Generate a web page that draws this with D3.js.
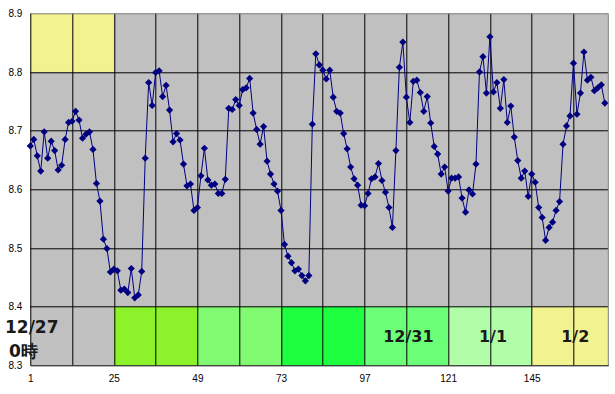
<!DOCTYPE html>
<html>
<head>
<meta charset="utf-8">
<script src="https://cdn.jsdelivr.net/npm/d3@7"></script>
<style>
  body { margin: 0; background: #fff; }
  svg { display: block; }
  .tick text { font-family: "Liberation Sans", Arial, sans-serif; font-size: 10px; fill: #000; }
  .note { font-family: "DejaVu Sans", sans-serif; font-weight: bold; fill: #1a1a1a; }
</style>
</head>
<body>
<div id="chart"></div>
<script>
// hourly readings, 12/27 0時 onwards
const levels = [
  8.674, 8.685, 8.657, 8.631, 8.698, 8.653, 8.682, 8.666, 8.633, 8.641, 8.685, 8.714,
  8.716, 8.733, 8.718, 8.687, 8.694, 8.698, 8.668, 8.610, 8.580, 8.515, 8.499, 8.459,
  8.464, 8.461, 8.428, 8.430, 8.424, 8.465, 8.415, 8.420, 8.460, 8.653, 8.782, 8.743,
  8.799, 8.802, 8.758, 8.777, 8.735, 8.681, 8.695, 8.684, 8.643, 8.606, 8.609, 8.564,
  8.569, 8.623, 8.670, 8.616, 8.607, 8.609, 8.593, 8.593, 8.617, 8.738, 8.736, 8.753,
  8.743, 8.770, 8.773, 8.789, 8.730, 8.702, 8.677, 8.707, 8.648, 8.626, 8.609, 8.597,
  8.564, 8.506, 8.486, 8.475, 8.461, 8.464, 8.453, 8.444, 8.453, 8.711, 8.831, 8.812,
  8.803, 8.788, 8.803, 8.757, 8.733, 8.730, 8.695, 8.669, 8.638, 8.618, 8.607, 8.573,
  8.572, 8.593, 8.618, 8.621, 8.644, 8.615, 8.595, 8.569, 8.535, 8.666, 8.808, 8.851,
  8.757, 8.714, 8.784, 8.786, 8.765, 8.733, 8.758, 8.713, 8.673, 8.660, 8.626, 8.638,
  8.597, 8.619, 8.619, 8.621, 8.585, 8.561, 8.599, 8.592, 8.643, 8.800, 8.826, 8.764,
  8.860, 8.766, 8.782, 8.738, 8.787, 8.714, 8.742, 8.689, 8.649, 8.619, 8.631, 8.588,
  8.626, 8.612, 8.569, 8.552, 8.513, 8.535, 8.544, 8.564, 8.579, 8.677, 8.708, 8.725,
  8.815, 8.728, 8.764, 8.834, 8.786, 8.791, 8.768, 8.773, 8.778, 8.747
];
const hours = levels.map((d, i) => i + 1);

const xTicks = [1, 25, 49, 73, 97, 121, 145];
const xGrid = d3.range(1, 167, 12);
const yTicks = [8.3, 8.4, 8.5, 8.6, 8.7, 8.8, 8.9];

// day blocks along the bottom row
const dayFrom = [25, 49, 73, 97, 121, 145];
const dayTo = [49, 73, 97, 121, 145, 167];
const dayColors = ["#8cf22a", "#80fa70", "#1eff40", "#6cff78", "#b0ffa8", "#f2f290"];
const dayNames = ["12/31", "1/1", "1/2"];
const dayNameAt = [109.6, 133.9, 157.5];

const width = 615, height = 394;
const margin = {top: 13.3, right: 6.7, bottom: 28.7, left: 30.3};
const chartWidth = width - margin.left - margin.right;
const chartHeight = height - margin.top - margin.bottom;

const svg = d3.select("#chart").append("svg")
  .attr("width", width)
  .attr("height", height);
const g = svg.append("g")
  .attr("transform", `translate(${margin.left}, ${margin.top})`);

const x = d3.scaleLinear().domain([1, 167]).range([0, chartWidth]);
const y = d3.scaleLinear().domain([8.3, 8.9]).range([chartHeight, 0]);

g.append("rect")
  .attr("width", chartWidth)
  .attr("height", chartHeight)
  .attr("fill", "#c0c0c0");

// top-left yellow block
g.append("rect")
  .attr("x", x(1))
  .attr("y", y(8.9))
  .attr("width", x(25) - x(1))
  .attr("height", y(8.8) - y(8.9))
  .attr("fill", "#f2f290");

g.selectAll(".day")
  .data(dayFrom)
  .enter()
  .append("rect")
  .attr("x", d => x(d))
  .attr("y", y(8.4))
  .attr("width", (d, i) => x(dayTo[i]) - x(d))
  .attr("height", y(8.3) - y(8.4))
  .attr("fill", (d, i) => dayColors[i]);

// grid
g.selectAll(".hgrid")
  .data(yTicks.slice(1, -1))
  .enter()
  .append("line")
  .attr("x1", 0).attr("x2", chartWidth)
  .attr("y1", d => Math.round(y(d)) + 0.5)
  .attr("y2", d => Math.round(y(d)) + 0.5)
  .attr("stroke", "#000");

g.selectAll(".vgrid")
  .data(xGrid.slice(1))
  .enter()
  .append("line")
  .attr("y1", 0).attr("y2", chartHeight)
  .attr("x1", d => Math.round(x(d)) + 0.5)
  .attr("x2", d => Math.round(x(d)) + 0.5)
  .attr("stroke", "#000");

// plot border (top/right grey)
g.append("path")
  .attr("d", `M0,0.5H${chartWidth}V${chartHeight}`)
  .attr("fill", "none")
  .attr("stroke", "#808080");

const xAxis = d3.axisBottom(x).tickValues(xTicks).tickSize(0).tickPadding(10).tickFormat(d3.format("d"));
const yAxis = d3.axisLeft(y).tickValues(yTicks).tickSize(0).tickPadding(8).tickFormat(d3.format(".1f"));

g.append("g")
  .attr("transform", `translate(0, ${chartHeight})`)
  .call(xAxis)
  .call(a => a.select(".domain").attr("stroke", "#000"));

g.append("g")
  .call(yAxis)
  .call(a => a.select(".domain").attr("stroke", "#000"));

// series
g.append("path")
  .datum(levels)
  .attr("fill", "none")
  .attr("stroke", "#000080")
  .attr("stroke-width", 1)
  .attr("d", d3.line().x((d, i) => x(hours[i])).y(d => y(d)));

const diamond = d3.symbol().type(d3.symbolSquare).size(26);
g.selectAll(".pt")
  .data(levels)
  .enter()
  .append("path")
  .attr("d", diamond)
  .attr("transform", (d, i) => `translate(${x(hours[i])}, ${y(d)}) rotate(45)`)
  .attr("fill", "#000080");

// notes
svg.append("text")
  .attr("class", "note")
  .attr("x", 5).attr("y", 333)
  .style("font-size", "17px")
  .text("12/27");
svg.append("text")
  .attr("class", "note")
  .attr("x", 9).attr("y", 357)
  .style("font-size", "17px")
  .text("0時");

g.selectAll(".dayname")
  .data(dayNames)
  .enter()
  .append("text")
  .attr("class", "note")
  .attr("x", (d, i) => x(dayNameAt[i]))
  .attr("y", y(8.34))
  .attr("text-anchor", "middle")
  .style("font-size", "16px")
  .text(d => d);
</script>
</body>
</html>
